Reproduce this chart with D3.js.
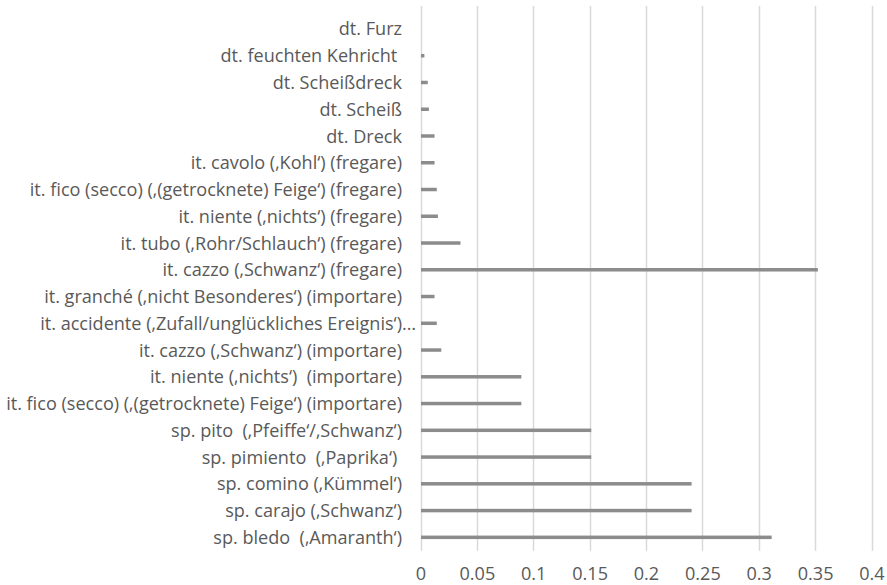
<!DOCTYPE html>
<html>
<head>
<meta charset="utf-8">
<script src="https://cdn.jsdelivr.net/npm/d3@7"></script>
<style>
  html, body { margin: 0; padding: 0; background: #fff; }
  svg { display: block; }
  text { font-family: "Open Sans", Lato, sans-serif; fill: #595959; white-space: pre; }
</style>
</head>
<body>
<svg id="chart" width="887" height="585"></svg>
<script>
// Categories listed bottom-to-top (as in the source spreadsheet)
const categories = [
  "sp. bledo  (‚Amaranth‘)",
  "sp. carajo (‚Schwanz‘)",
  "sp. comino (‚Kümmel‘)",
  "sp. pimiento  (‚Paprika‘) ",
  "sp. pito  (‚Pfeiffe‘/‚Schwanz‘)",
  "it. fico (secco) (‚(getrocknete) Feige‘) (importare)",
  "it. niente (‚nichts‘)  (importare)",
  "it. cazzo (‚Schwanz‘) (importare)",
  "it. accidente (‚Zufall/unglückliches Ereignis‘)…",
  "it. granché (‚nicht Besonderes‘) (importare)",
  "it. cazzo (‚Schwanz‘) (fregare)",
  "it. tubo (‚Rohr/Schlauch‘) (fregare)",
  "it. niente (‚nichts‘) (fregare)",
  "it. fico (secco) (‚(getrocknete) Feige‘) (fregare)",
  "it. cavolo (‚Kohl‘) (fregare)",
  "dt. Dreck",
  "dt. Scheiß",
  "dt. Scheißdreck",
  "dt. feuchten Kehricht ",
  "dt. Furz"
];
const values = [
  0.311, 0.240, 0.240, 0.151, 0.151,
  0.089, 0.089, 0.018, 0.014, 0.012,
  0.352, 0.035, 0.015, 0.014, 0.012,
  0.012, 0.007, 0.006, 0.003, 0.0
];
const xTicks = [0, 0.05, 0.1, 0.15, 0.2, 0.25, 0.3, 0.35, 0.4];

const svg = d3.select("#chart");
const plot = { left: 420.5, right: 871.5, top: 15.6, bottom: 550.7, gridTop: 6 };

const x = d3.scaleLinear().domain([0, 0.4]).range([plot.left, plot.right]);
const y = d3.scaleBand().domain(categories).range([plot.bottom, plot.top]).padding(0);

// gridlines
svg.append("g").selectAll("line").data(xTicks).join("line")
  .attr("x1", d => Math.round(x(d)) + 0.5).attr("x2", d => Math.round(x(d)) + 0.5)
  .attr("y1", plot.gridTop).attr("y2", plot.bottom)
  .attr("stroke", "#d9d9d9").attr("stroke-width", 1.5);

// bars
const barH = 3.5;
svg.append("g").selectAll("rect").data(categories).join("rect")
  .attr("x", x(0) + 0.5)
  .attr("y", d => y(d) + y.bandwidth() / 2 - barH / 2)
  .attr("width", (d, i) => Math.max(0, x(values[i]) - x(0)))
  .attr("height", barH)
  .attr("fill", "#8c8c8c");

// category labels
let fs = 14;
const labelRight = 402;
const labels = svg.append("g").selectAll("text").data(categories).join("text")
  .attr("x", labelRight)
  .attr("y", d => y(d) + y.bandwidth() / 2)
  .attr("dy", "0.36em")
  .attr("text-anchor", "end")
  .attr("font-size", fs)
  .text(d => d);
// fit the longest label to the reference width (~397px)
const longest = d3.max(labels.nodes(), n => n.getComputedTextLength());
fs = fs * 396 / longest;
labels.attr("font-size", fs);
// truncated label: its ellipsis hangs past the label edge
const probe = svg.append("text").attr("font-size", fs).text("…");
const ellW = probe.node().getComputedTextLength();
probe.remove();
labels.filter(d => d.endsWith("…")).attr("x", labelRight + ellW);

// x tick labels
const xAxis = d3.axisBottom(x).tickValues(xTicks).tickSize(0).tickPadding(0)
  .tickFormat(d => String(d));
const gx = svg.append("g").attr("transform", `translate(0, ${plot.bottom})`).call(xAxis);
gx.select(".domain").remove();
gx.selectAll("text")
  .attr("y", 29.3).attr("dy", "0")
  .attr("font-size", fs)
  .style("font-family", "'Open Sans', Lato, sans-serif")
  .attr("fill", "#595959");
</script>
</body>
</html>
